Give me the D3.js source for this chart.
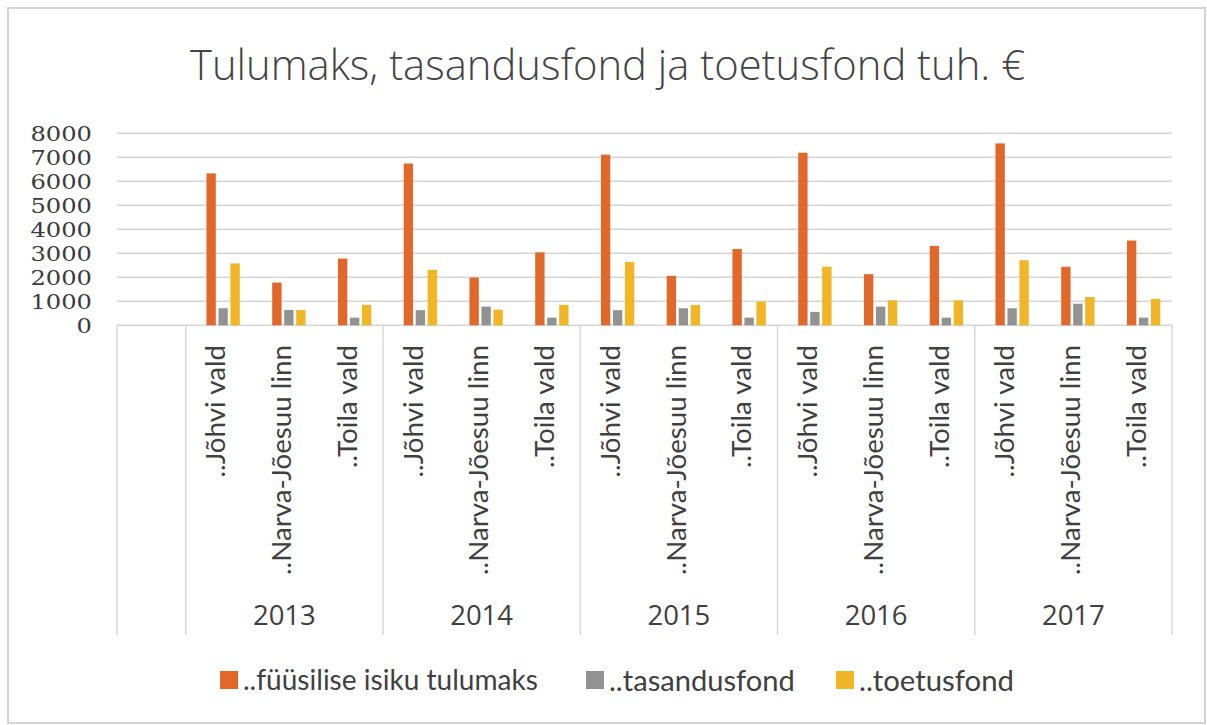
<!DOCTYPE html>
<html>
<head>
<meta charset="utf-8">
<script src="https://cdn.jsdelivr.net/npm/d3@7"></script>
<style>
  html, body { margin: 0; padding: 0; background: #fff; }
  svg { display: block; }
</style>
</head>
<body>
<svg id="chart" width="1207" height="725"></svg>
<script>
// ---- data ----
const title = "Tulumaks, tasandusfond ja toetusfond tuh. €";
const years = ["2013", "2014", "2015", "2016", "2017"];
const municipalities = ["..Jõhvi vald", "..Narva-Jõesuu linn", "..Toila vald"];
const seriesNames = ["..füüsilise isiku tulumaks", "..tasandusfond", "..toetusfond"];
const tulumaks     = [6330, 1780, 2780, 6740, 1990, 3040, 7110, 2060, 3180, 7190, 2130, 3310, 7580, 2440, 3530];
const tasandusfond = [ 710,  640,  320,  630,  780,  320,  630,  710,  320,  560,  780,  320,  710,  900,  320];
const toetusfond   = [2580,  640,  850, 2310,  650,  850, 2640,  850,  990, 2440, 1040, 1040, 2710, 1180, 1100];
const yTicks = [0, 1000, 2000, 3000, 4000, 5000, 6000, 7000, 8000];

// ---- build rows ----
const seriesValues = [tulumaks, tasandusfond, toetusfond];
const colors = ["#E2672A", "#929292", "#F2B526"];
const rows = [{ key: "blank", year: null, name: "", values: null }];
years.forEach((y, yi) => municipalities.forEach((m, mi) => {
  const i = yi * municipalities.length + mi;
  rows.push({ key: y + "|" + m, year: y, name: m, values: seriesValues.map(s => s[i]) });
}));

const svg = d3.select("#chart");
const W = 1207, H = 725;

// outer frame
svg.append("rect").attr("x", 8).attr("y", 8).attr("width", W - 10).attr("height", H - 10)
  .attr("fill", "#fff").attr("stroke", "#d4d4d4").attr("stroke-width", 2);

const plotLeft = 117, plotRight = 1172, plotTop = 133.3, plotBottom = 325.3;
const tableBottom = 635;

const x = d3.scaleBand().domain(rows.map(d => d.key)).range([plotLeft + 3, plotRight]).padding(0);
const bw = x.bandwidth();
const xs = d3.scaleBand().domain(d3.range(3)).range([0.315 * bw, 0.822 * bw]).paddingInner(0.22);
const y = d3.scaleLinear().domain([0, 8000]).range([plotBottom, plotTop]);

function fit(sel, target) {
  sel.each(function () {
    const fs = parseFloat(d3.select(this).style("font-size"));
    const w = this.getComputedTextLength();
    if (w > 0) d3.select(this).style("font-size", (fs * target / w) + "px");
  });
}

// title
svg.append("text").attr("x", (190 + 1025) / 2).attr("y", 80)
  .attr("text-anchor", "middle")
  .style("font-family", "'Open Sans', sans-serif").style("font-weight", 300)
  .style("font-size", "42px").attr("fill", "#444")
  .text(title)
  .call(s => s.attr("textLength", 835).attr("lengthAdjust", "spacingAndGlyphs"));

// gridlines
svg.append("g").selectAll("line").data(yTicks).join("line")
  .attr("x1", plotLeft).attr("x2", plotRight)
  .attr("y1", d => y(d)).attr("y2", d => y(d))
  .attr("stroke", "#d6d6d6").attr("stroke-width", 1.6);

// y axis labels
const yAxis = svg.append("g").attr("transform", `translate(92,0)`)
  .call(d3.axisLeft(y).tickValues(yTicks).tickSize(0).tickPadding(0).tickFormat(d3.format("d")));
yAxis.select(".domain").remove();
yAxis.selectAll("text")
  .style("font-family", "'DejaVu Serif', serif").style("font-size", "20.5px")
  .attr("fill", "#3c3c3c").attr("dy", "0.36em")
  .attr("textLength", d => String(d).length * 15.4).attr("lengthAdjust", "spacingAndGlyphs");

// table lines (category dividers)
const groupEdges = [plotLeft];
years.forEach((yr, yi) => groupEdges.push(x(rows[1 + yi * 3].key)));
groupEdges.push(plotRight);
svg.append("g").selectAll("line").data(groupEdges).join("line")
  .attr("x1", d => d).attr("x2", d => d)
  .attr("y1", plotBottom).attr("y2", tableBottom)
  .attr("stroke", "#d6d6d6").attr("stroke-width", 1.4);

// bars
const dataRows = rows.filter(d => d.values);
const gBars = svg.append("g");
dataRows.forEach(r => {
  gBars.append("g").attr("transform", `translate(${x(r.key)},0)`)
    .selectAll("rect").data(r.values.map((v, i) => ({ v, i }))).join("rect")
    .attr("x", d => xs(d.i)).attr("width", xs.bandwidth())
    .attr("y", d => y(d.v)).attr("height", d => y(0) - y(d.v))
    .attr("fill", d => colors[d.i]);
});

// category labels (rotated)
const catLabels = svg.append("g").selectAll("text").data(dataRows).join("text")
  .attr("transform", d => `translate(${x(d.key) + bw / 2 - 3},345) rotate(-90)`)
  .attr("text-anchor", "end").attr("dy", "0.35em")
  .style("font-family", "Lato, sans-serif").style("font-size", "22px")
  .attr("fill", "#404040")
  .text(d => d.name);
const narva = catLabels.filter(d => d.name === municipalities[1]);
fit(narva, 230);
const cfs = narva.style("font-size");
catLabels.style("font-size", cfs);

// year labels
svg.append("g").selectAll("text").data(years).join("text")
  .attr("x", (yr, yi) => x(rows[1 + yi * 3].key) + bw * 1.5)
  .attr("y", 625)
  .attr("text-anchor", "middle")
  .style("font-family", "'Open Sans', sans-serif").style("font-size", "23px")
  .attr("fill", "#404040")
  .text(d => d)
  .call(s => fit(s.filter((d, i) => i === 0), 63))
  .call(s => s.style("font-size", s.filter((d, i) => i === 0).style("font-size")));

// legend
const legX = [220, 586, 836];
const legW = [295, 186, 155];
const leg = svg.append("g").selectAll("g").data(seriesNames).join("g")
  .attr("transform", (d, i) => `translate(${legX[i]},671)`);
leg.append("rect").attr("width", 18).attr("height", 18).attr("fill", (d, i) => colors[i]);
leg.append("text").attr("x", 23).attr("y", 9).attr("dy", "0.36em")
  .style("font-family", "Lato, sans-serif").style("font-size", "23px")
  .attr("fill", "#404040")
  .text(d => d)
  .each(function (d, i) { fit(d3.select(this), legW[i]); });
</script>
</body>
</html>
